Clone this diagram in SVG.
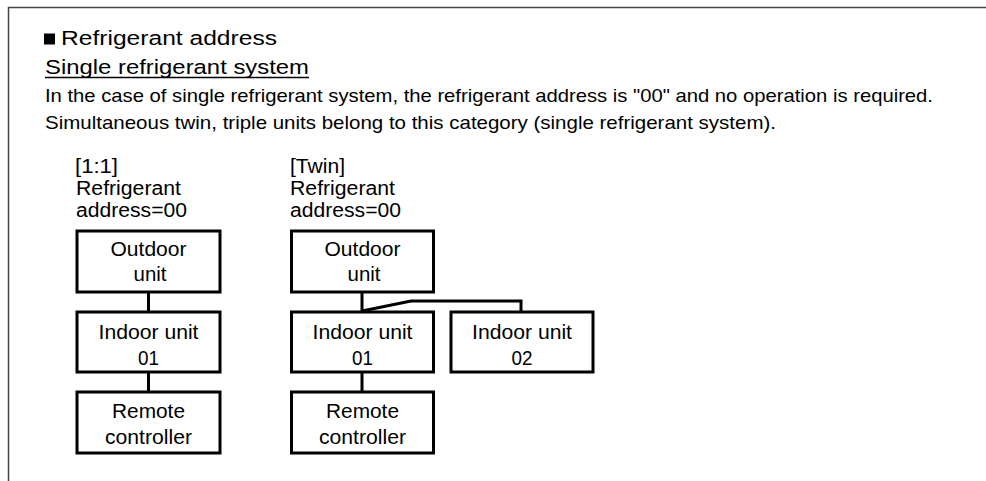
<svg xmlns="http://www.w3.org/2000/svg" width="986" height="481" viewBox="0 0 986 481">
  <style>
    .t { font-family: "Liberation Sans", Arial, sans-serif; fill: #000; }
    .h { font-size: 20.5px; }
    .b { font-size: 18.5px; }
    .d { font-size: 19.5px; }
    .c { text-anchor: middle; }
    .box { fill: #fff; stroke: #000; stroke-width: 3; }
    .ln { fill: none; stroke: #000; stroke-width: 3; }
    .frame { fill: none; stroke: #444; stroke-width: 1.5; }
  </style>
  <rect width="986" height="481" fill="#fff"/>
  <path class="frame" d="M8.5,481 L8.5,7.5 L986,7.5"/>

  <g id="header">
    <rect x="44" y="33.5" width="11" height="11" fill="#000"/>
    <text class="t h" x="61" y="44.5" textLength="216" lengthAdjust="spacingAndGlyphs">Refrigerant address</text>
    <text class="t h" x="45" y="74" textLength="264" lengthAdjust="spacingAndGlyphs">Single refrigerant system</text>
    <line x1="45" y1="77.5" x2="309" y2="77.5" stroke="#000" stroke-width="1.5"/>
    <text class="t b" x="45" y="102" textLength="888" lengthAdjust="spacingAndGlyphs">In the case of single refrigerant system, the refrigerant address is "00" and no operation is required.</text>
    <text class="t b" x="45" y="129" textLength="731" lengthAdjust="spacingAndGlyphs">Simultaneous twin, triple units belong to this category (single refrigerant system).</text>
  </g>

  <g id="label-1to1">
    <text class="t d" x="75" y="173" textLength="43" lengthAdjust="spacingAndGlyphs">[1:1]</text>
    <text class="t d" x="76" y="195" textLength="105" lengthAdjust="spacingAndGlyphs">Refrigerant</text>
    <text class="t d" x="76" y="217" textLength="111" lengthAdjust="spacingAndGlyphs">address=00</text>
  </g>
  <g id="label-twin">
    <text class="t d" x="290" y="173" textLength="55" lengthAdjust="spacingAndGlyphs">[Twin]</text>
    <text class="t d" x="290" y="195" textLength="105" lengthAdjust="spacingAndGlyphs">Refrigerant</text>
    <text class="t d" x="290" y="217" textLength="111" lengthAdjust="spacingAndGlyphs">address=00</text>
  </g>

  <g id="connectors">
    <line class="ln" x1="148.5" y1="292" x2="148.5" y2="312"/>
    <line class="ln" x1="148.5" y1="372" x2="148.5" y2="392"/>
    <line class="ln" x1="362" y1="292" x2="362" y2="312"/>
    <line class="ln" x1="362" y1="372" x2="362" y2="392"/>
    <path class="ln" d="M362,311 L411,301 L521,301 L521,312" stroke-width="2.5"/>
  </g>

  <g id="outdoor-1">
    <rect class="box" x="77" y="231" width="143" height="61"/>
    <text class="t d c" x="148.5" y="255.5" textLength="76" lengthAdjust="spacingAndGlyphs">Outdoor</text>
    <text class="t d c" x="150" y="280.5" textLength="33" lengthAdjust="spacingAndGlyphs">unit</text>
  </g>
  <g id="indoor-1-01">
    <rect class="box" x="77" y="312" width="143" height="60"/>
    <text class="t d c" x="148.5" y="339" textLength="100" lengthAdjust="spacingAndGlyphs">Indoor unit</text>
    <text class="t d c" x="148.5" y="365" textLength="21" lengthAdjust="spacingAndGlyphs">01</text>
  </g>
  <g id="remote-1">
    <rect class="box" x="77" y="392" width="143" height="61"/>
    <text class="t d c" x="148.5" y="418" textLength="73" lengthAdjust="spacingAndGlyphs">Remote</text>
    <text class="t d c" x="148.5" y="443.5" textLength="87" lengthAdjust="spacingAndGlyphs">controller</text>
  </g>

  <g id="outdoor-twin">
    <rect class="box" x="291.5" y="231" width="142" height="61"/>
    <text class="t d c" x="362.5" y="255.5" textLength="76" lengthAdjust="spacingAndGlyphs">Outdoor</text>
    <text class="t d c" x="364" y="280.5" textLength="33" lengthAdjust="spacingAndGlyphs">unit</text>
  </g>
  <g id="indoor-twin-01">
    <rect class="box" x="291.5" y="312" width="142" height="60"/>
    <text class="t d c" x="362.5" y="339" textLength="100" lengthAdjust="spacingAndGlyphs">Indoor unit</text>
    <text class="t d c" x="362.5" y="365" textLength="21" lengthAdjust="spacingAndGlyphs">01</text>
  </g>
  <g id="indoor-twin-02">
    <rect class="box" x="451" y="312" width="142" height="60"/>
    <text class="t d c" x="522" y="339" textLength="100" lengthAdjust="spacingAndGlyphs">Indoor unit</text>
    <text class="t d c" x="522" y="365" textLength="21" lengthAdjust="spacingAndGlyphs">02</text>
  </g>
  <g id="remote-twin">
    <rect class="box" x="291.5" y="392" width="142" height="61"/>
    <text class="t d c" x="362.5" y="418" textLength="73" lengthAdjust="spacingAndGlyphs">Remote</text>
    <text class="t d c" x="362.5" y="443.5" textLength="87" lengthAdjust="spacingAndGlyphs">controller</text>
  </g>
</svg>
